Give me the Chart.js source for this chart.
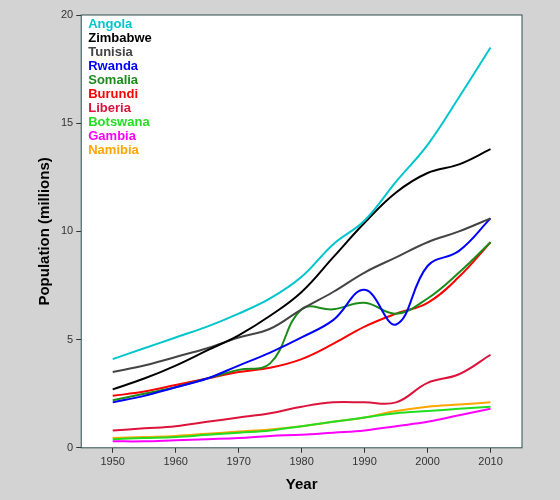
<!DOCTYPE html>
<html><head><script src="https://cdn.jsdelivr.net/npm/chart.js@4"></script>
<style>body{margin:0;background:#d3d3d3}#w{width:560px;height:500px}</style></head>
<body><div id="w"><canvas id="c"></canvas></div>
<script>
const years=[1950,1955,1960,1965,1970,1975,1980,1985,1990,1995,2000,2005,2010];
const names=["Angola","Zimbabwe","Tunisia","Rwanda","Somalia","Burundi","Liberia","Botswana","Gambia","Namibia"];
const colors=["#00c5cd","#000000","#444444","#0000ff","#1a8c1a","#ff0000","#dc143c","#22dd22","#ff00ff","#ffa500"];
const angola=[4.1,4.6,5.1,5.6,6.2,6.9,7.9,9.4,10.5,12.3,14.0,16.2,18.5];
const zimbabwe=[2.7,3.2,3.8,4.5,5.2,6.1,7.2,8.8,10.4,11.8,12.7,13.1,13.8];
const tunisia=[3.5,3.8,4.2,4.6,5.1,5.5,6.4,7.2,8.1,8.8,9.5,10.0,10.6];
const rwanda=[2.1,2.4,2.8,3.2,3.8,4.4,5.1,5.9,7.3,5.7,8.4,9.1,10.6];
const somalia=[2.2,2.5,2.8,3.2,3.6,3.9,6.4,6.4,6.7,6.2,6.9,8.1,9.5];
const burundi=[2.4,2.6,2.9,3.2,3.5,3.7,4.1,4.8,5.6,6.2,6.7,7.9,9.5];
const liberia=[0.8,0.9,1.0,1.2,1.4,1.6,1.9,2.1,2.1,2.1,3.0,3.4,4.3];
const botswana=[0.4,0.45,0.5,0.6,0.7,0.8,1.0,1.2,1.4,1.6,1.7,1.8,1.9];
const gambia=[0.3,0.3,0.35,0.4,0.45,0.55,0.6,0.7,0.8,1.0,1.2,1.5,1.8];
const namibia=[0.45,0.5,0.55,0.65,0.75,0.85,1.0,1.2,1.4,1.7,1.9,2.0,2.1];
const series=[angola,zimbabwe,tunisia,rwanda,somalia,burundi,liberia,botswana,gambia,namibia];
const legendPlugin={id:'lg',afterDraw(ch){const c=ch.ctx,a=ch.chartArea;c.save();c.font='bold 13px "Liberation Sans", Arial';c.textBaseline='top';
names.forEach((n,i)=>{c.fillStyle=colors[i];c.fillText(n,a.left+7,a.top+3+i*14);});c.restore();}};
const borderPlugin={id:'bd',beforeDraw(ch){const c=ch.ctx,a=ch.chartArea;c.save();c.fillStyle='#fff';c.fillRect(a.left,a.top,a.right-a.left,a.bottom-a.top);c.restore();},
afterDraw(ch){const c=ch.ctx,a=ch.chartArea;c.save();c.strokeStyle='#2f4f4f';c.lineWidth=1;c.strokeRect(a.left,a.top,a.right-a.left,a.bottom-a.top);c.restore();}};
const tickGrid={display:true,drawOnChartArea:false,drawTicks:true,tickLength:5,color:'#333'};
new Chart(document.getElementById('c'),{type:'line',
data:{datasets:series.map((s,i)=>({label:names[i],data:years.map((y,j)=>({x:y,y:s[j]})),borderColor:colors[i],borderWidth:2,pointRadius:0,tension:0.4,fill:false}))},
options:{responsive:true,maintainAspectRatio:false,animation:false,layout:{padding:{left:32,right:38,top:15,bottom:2}},
plugins:{legend:{display:false},tooltip:{enabled:false}},
scales:{x:{type:'linear',min:1945,max:2015,grid:tickGrid,border:{display:false},
ticks:{stepSize:10,color:'#333',font:{size:11},callback:v=>v%10===0&&v>=1950&&v<=2010?String(v):''},
title:{display:true,text:'Year',font:{size:15,weight:'bold'},color:'#000'},afterBuildTicks:s=>{s.ticks=years.filter(y=>y%10===0).map(v=>({value:v}));}},
y:{min:0,max:20,grid:tickGrid,border:{display:false},ticks:{stepSize:5,color:'#333',font:{size:11}},
title:{display:true,text:'Population (millions)',font:{size:15,weight:'bold'},color:'#000'}}}},
plugins:[borderPlugin,legendPlugin]});
</script></body></html>
